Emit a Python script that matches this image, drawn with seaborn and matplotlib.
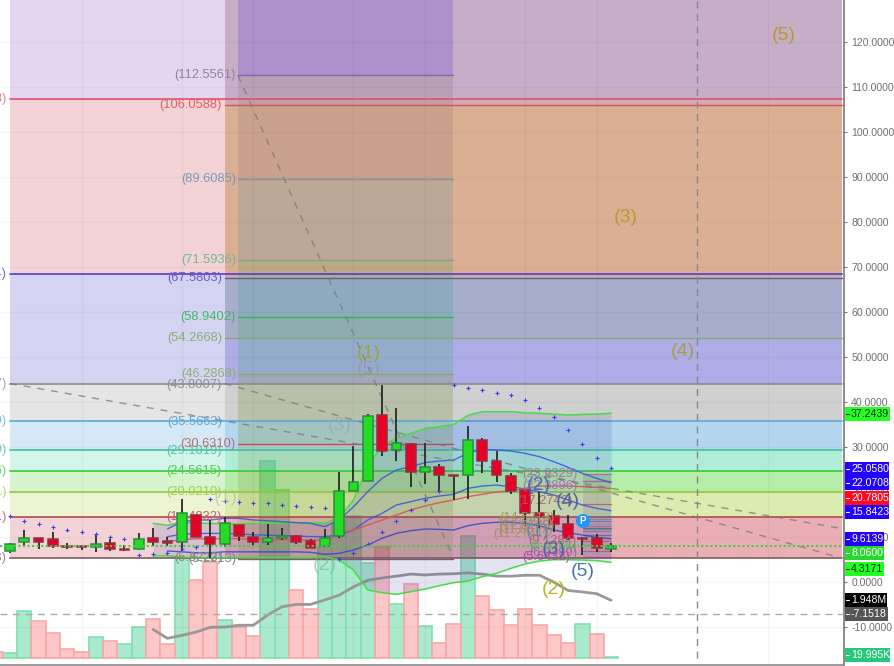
import numpy as np
import pandas as pd
import matplotlib
matplotlib.use("Agg")
import matplotlib.pyplot as plt
from matplotlib.patches import Rectangle, Circle
import seaborn as sns

# ---------- data ----------
candle_idx = list(range(43))
opens = [6.81,8.82,9.70,9.48,8.07,7.93,7.85,8.59,7.33,7.41,9.70,9.11,8.82,14.82,9.96,8.37,12.67,9.96,8.82,9.85,10.22,9.04,
         7.92,10.15,20.22,22.37,37.03,29.26,30.59,24.37,25.55,23.85,23.85,31.48,26.81,23.63,20.44,15.41,14.59,12.81,9.85,9.85,7.41]
closes = [8.45,9.70,8.96,8.07,7.78,7.78,8.45,7.26,7.19,9.48,8.96,8.59,15.26,9.96,8.52,13.04,10.15,8.82,9.78,10.30,8.96,7.63,
          9.85,20.15,22.14,36.81,29.18,30.81,24.44,25.63,23.85,23.63,31.48,26.81,23.70,20.22,15.41,14.52,12.89,9.85,9.63,7.48,8.00]
highs = [8.59,11.56,9.70,11.11,8.74,7.93,10.52,9.56,8.22,10.82,11.93,10.07,18.45,14.82,13.78,14.52,12.67,11.11,12.89,12.07,10.52,9.56,
         11.77,24.52,30.22,37.33,43.77,38.59,30.81,30.81,26.15,23.85,34.66,31.92,29.18,24.14,20.44,19.92,16.00,14.89,10.07,10.66,8.59]
lows = [6.37,8.00,7.41,7.63,7.41,7.11,6.74,6.96,6.96,7.11,8.07,8.00,6.96,9.96,5.41,7.85,9.11,8.07,8.22,9.33,8.45,7.48,
        7.77,9.70,20.22,22.37,28.07,26.96,21.18,21.70,20.07,18.22,18.52,24.29,22.14,19.55,12.52,11.92,11.18,9.33,6.00,6.74,6.74]

vol_idx = list(range(-1, 43))
volumes = [0.21,0.158,1.58,1.243,0.83,0.302,0.212,0.706,0.571,0.48,1.04,1.31,0.48,3.36,2.62,3.23,1.28,1.04,0.74,6.62,5.64,2.27,1.65,
           3.73,4.54,4.77,3.19,3.73,1.81,2.48,1.08,0.51,1.15,4.10,2.08,1.61,1.11,1.65,1.11,0.76,0.51,1.14,0.80,0.02]
vol_up = [0,1,1,0,0,0,0,1,0,1,1,0,0,1,0,0,1,0,0,1,1,0,0,1,1,1,1,0,1,0,1,0,0,1,0,0,0,0,0,0,0,1,0,1]

ma_idx = list(range(10, 43))
vol_ma = [0.96,0.66,0.76,0.87,1.03,1.04,1.10,1.10,1.44,1.72,1.80,1.80,1.95,2.11,2.39,2.61,2.69,2.75,2.82,2.79,2.82,2.83,2.86,2.82,
          2.75,2.75,2.78,2.78,2.55,2.27,2.22,2.16,1.94]

bb_idx = list(range(10, 43))
bb_upper = [13.04,12.59,13.33,13.04,13.04,12.89,12.89,13.04,13.04,13.19,13.19,13.19,13.03,14.30,18.20,25.60,30.40,31.90,33.00,34.10,
            34.50,35.00,37.00,37.85,37.85,37.85,37.60,37.50,37.30,37.10,37.25,37.30,37.50]
bb_lower = [5.78,5.85,5.56,5.41,5.41,5.41,5.41,5.41,5.41,5.41,5.41,5.41,5.63,4.89,2.66,-1.78,-2.37,-2.74,-2.15,-1.56,-0.82,-0.15,
            0.22,1.18,1.92,3.04,4.00,4.66,4.96,4.96,4.89,4.74,4.37]
inner_idx = list(range(11, 43))
blue_a = [11.78,13.40,13.78,13.78,14.15,14.15,13.78,13.63,13.40,13.19,13.04,12.30,13.77,16.70,20.07,23.03,24.89,25.63,26.52,26.89,
          27.11,28.59,29.48,29.33,29.11,28.59,27.85,26.74,25.48,24.15,23.03,22.07]
blue_b = [10.07,10.60,10.80,10.80,10.80,10.70,10.50,10.40,10.30,10.20,10.10,10.07,10.44,11.56,13.77,15.26,17.11,17.85,18.59,19.11,
          19.48,20.81,21.33,21.55,21.18,20.66,20.07,19.33,18.22,17.11,16.37,15.84]
sma = [9.00,9.40,9.60,9.60,9.60,9.60,9.50,9.40,9.40,9.40,9.30,9.33,10.81,11.56,12.66,13.77,14.89,16.00,16.89,17.63,18.22,18.96,19.48,
       20.00,20.29,20.81,21.33,21.33,21.33,21.18,21.03,20.78]
blue_c = [6.90,6.70,6.50,6.50,6.70,6.70,6.70,6.70,6.70,6.70,6.60,6.15,6.37,7.11,8.22,9.70,10.81,11.40,11.77,11.70,11.55,12.52,13.03,
          13.26,13.26,13.03,12.52,11.55,10.96,10.44,9.92,9.61]
sar = [14.67,13.63,12.89,12.22,11.63,11.04,10.59,10.07,9.63,6.07,6.30,6.44,7.26,7.85,18.45,18.07,17.85,17.63,17.48,17.04,16.81,16.59,
       16.52,5.18,6.37,8.37,11.03,13.63,16.00,18.22,20.22,43.70,43.04,42.59,42.00,41.63,40.37,38.59,36.59,33.85,30.59,27.63,25.26]

# fib set A: full width
a_levels = [107.3, 68.4, 44.1, 35.8, 29.35, 24.7, 20.1, 14.44, 5.27]
a_labels = ["(107.3308)", "(68.3654)", "(44.1267)", "(35.8009)", "(29.3509)", "(24.7056)", "(20.1021)", "(14.4381)", "(5.2703)"]
a_line = ["#e0506a", "#5038d0", "#8a8a8a", "#5aaad8", "#40c0a0", "#30cc30", "#95c835", "#b04848", "#805858"]
# fib set B labels
b_values = [106.0588, 67.5803, 54.2668, 43.8007, 35.5663, 29.1019, 24.5615, 20.0210, 14.4832, 5.3223]
b_colors = ["#d9606a", "#6a5ad0", "#88b070", "#8f8f8f", "#60a8d8", "#50c8a0", "#50cc50", "#a5cc50", "#c06070", "#888888"]
# fib set C
c_values = [112.5561, 89.6085, 71.5936, 58.9402, 46.2868, 30.6310, 5.2213]
c_colors = ["#9080a8", "#7a9ab8", "#70b890", "#40b868", "#90b070", "#b87070", "#888888"]
c_line = ["#8068a8", "#7a93a8", "#74a888", "#30b858", "#88a860", "#c05050", "#806060"]
# fib set D
d_levels = [23.93,22.39,17.27,14.5,14.0,13.5,13.0,12.5,12.1,11.7,11.27,10.5,9.12,8.3,6.98,5.64]
d_colors = ["#b060a0","#a85090","#c05060","#7070c0","#60a060","#8060c0","#60a0c0","#b06090","#5050c0","#50a060","#a060b0","#5060c0",
            "#c05060","#50b060","#b050a0","#a04090"]

TICKS = list(range(-10, 130, 10))
WAVES = [("(5)",784,35,"#b89a30",1),("(3)",626,218,"#b89a30",1),("(4)",683,351,"#a8a040",1),("(1)",369,353,"#98a830",1),
         ("(5)",369,369,"#909aa0",.7),("(3)",340,425,"#90a8a0",.6),("(2)",554,589,"#b8b820",1),("(5)",583,572,"#4a76a8",1),
         ("(2)",539,485,"#4a68b0",1),("(4)",568,501,"#4a68a0",1),("(3)",554,549,"#4a68a0",1),("(1)",538,531,"#4a88a8",.8),
         ("(2)",325,565,"#80b0a0",.6),("(1)",226,497,"#b0b0a0",.5)]
SIDE = [("37.2439",414,"#22ff22","#003000",890),("25.0580",469,"#2200ff","white",889),("22.0708",483,"#2200ff","white",889),
        ("20.7805",498,"#ff0a1e","white",889),("15.8423",512,"#2200ff","white",889),("9.6139",539,"#2200ff","white",884),
        ("8.0600",553,"#26d92c","white",884),("4.3171",569,"#22ff22","#003000",884),("1.948M",600,"black","white",887),
        ("-7.1518",614,"#555555","white",888),("19.995K",655,"#24c878","white",890)]

# ---------- theme ----------
sns.set_theme(style="white")
plt.rcParams["font.family"] = ["Liberation Sans", "DejaVu Sans"]

W, H = 894, 666
fig = plt.figure(figsize=(W/100, H/100), dpi=100, facecolor="white")
AX_R, AX_B = 844, 665
ax_vol = fig.add_axes([0, (H-AX_B)/H, AX_R/W, AX_B/H])
ax = ax_vol.twinx()
ax.set_zorder(2); ax_vol.set_zorder(1); ax.patch.set_visible(False)

X = lambda px: (px-10)/14.31
Y = lambda py: (582-py)/4.5
xlim = (X(0), X(AX_R)); ylim = (Y(AX_B), Y(0))
XEND = X(842)

# ---------- volume ----------
vdf = pd.DataFrame({"i": vol_idx, "v": volumes, "up": ["u" if u else "d" for u in vol_up]})
sns.barplot(data=vdf, x="i", y="v", hue="up", hue_order=["u", "d"], palette={"u": "#a9e9cc", "d": "#fdc7c7"}, native_scale=True,
            width=1.0, dodge=False, legend=False, ax=ax_vol, saturation=1, linewidth=1.2, zorder=2)
for cont, col in zip(ax_vol.containers, ["#82dfb4", "#f8a8a8"]):
    for b in cont:
        b.set_edgecolor(col)
sns.lineplot(x=ma_idx, y=vol_ma, color="#999999", lw=2, ax=ax_vol, zorder=3, estimator=None)
ax_vol.set_xlim(xlim); ax_vol.set_ylim(-7*0.0336, 658*0.0336)
ax_vol.set_xlabel(""); ax_vol.set_ylabel("")
ax_vol.set_xticks([]); ax_vol.set_yticks([])
for s in ax_vol.spines.values():
    s.set_visible(False)

ax.set_xlim(xlim); ax.set_ylim(ylim)
TOP = ylim[1]

def band(x0, x1, lo, hi, rgb, a, z=1):
    ax.fill_between([x0, x1], lo, hi, color=tuple(c/255 for c in rgb), alpha=a, lw=0, zorder=z)

# ---------- fib A ----------
x0A = X(10)
a_cols = [(130,45,190),(195,35,45),(40,40,190),(125,125,125),(45,140,205),(35,205,150),(50,205,15),(160,200,35),(195,35,50)]
edges = [TOP]+a_levels
for hi, lo, c in zip(edges[:-1], edges[1:], a_cols):
    band(x0A, XEND, lo, hi, c, .2)
# ---------- fib B ----------
x0B = X(225)
b_upper = [(TOP,106.06,(127,86,105)),(106.06,67.58,(166,94,0)),(67.58,54.27,(65,85,112)),(54.27,44.1,(92,85,209))]
for hi, lo, c in b_upper:
    band(x0B, XEND, lo, hi, c, .3)
for hi, lo, c in zip(a_levels[2:-1], a_levels[3:], a_cols[3:]):
    band(x0B, XEND, lo, hi, c, .2)
for v, c in zip(a_levels, a_line):
    ax.plot([x0A, XEND], [v, v], color=c, lw=1.3, alpha=.9, zorder=2)
for v, c in zip([106.0588, 67.5803, 54.2668], ["#d9505a", "#6a5a90", "#88a870"]):
    ax.plot([x0B, XEND], [v, v], color=c, lw=1.0, zorder=2)
# ---------- fib C ----------
x0C, x1C = X(238), X(453)
c_bands = [(TOP,112.56,(112,78,208),.3),(112.56,89.61,(107,83,83),.15),(89.61,71.59,(120,150,160),.3),(71.59,67.58,(110,163,103),.3),
           (67.58,58.94,(85,167,160),.3),(58.94,54.27,(85,167,113),.3),(54.27,46.29,(90,167,140),.3),(46.29,30.63,(125,151,70),.28),
           (30.63,5.27,(130,150,70),.22)]
for hi, lo, c, a in c_bands:
    band(x0C, x1C, lo, hi, c, a)
for v, c in zip(c_values, c_line):
    ax.plot([x0C, x1C], [v, v], color=c, lw=1.0, zorder=2)

# ---------- fib D ----------
band(X(583), X(611), 5.3, 24.0, (110,110,110), .18)
for v, c in zip(d_levels, d_colors):
    ax.plot([X(583), X(611)], [v, v], color=c, lw=0.9, alpha=.8, zorder=3)

# ---------- level labels ----------
fs = 9.3
for v, t, c in zip(a_levels, a_labels, a_line):
    ax.text(X(6.5), v, t, ha="right", va="center", color=c, fontsize=fs, alpha=.75, zorder=4, clip_on=False)
for v, c in zip(b_values, b_colors):
    ax.text(X(222), v, f"({v:.4f})", ha="right", va="center", color=c, fontsize=fs, zorder=4)
for v, c in zip(c_values, c_colors):
    ax.text(X(236), v, f"({v:.4f})", ha="right", va="center", color=c, fontsize=fs, zorder=4)
lab_d = [(578,474,"(23.9329)","#a868b8"),(578,486,"(22.3896)","#a868b8"),(573,501,"(17.2742)","#b05868"),
         (555,518,"(14.5213)","#a09060"),(553,522,"(13.6702)","#90a060"),(555,526,"(12.8133)","#a08878"),(553,530,"(11.9577)","#a09060"),
         (548,534,"(11.2741)","#a09060"),(577,541,"(9.1284)","#b85878"),(577,547,"(8.3276)","#50c060"),(577,553,"(6.9799)","#a858b0"),
         (570,557,"(5.6433)","#a848a0")]
for px, py, t, c in lab_d:
    ax.text(X(px), Y(py), t, ha="right", va="center", color=c, fontsize=fs, alpha=.9, zorder=7)

# ---------- Bollinger and indicators ----------
ax.fill_between(bb_idx, bb_lower, bb_upper, color=(70/255,70/255,170/255), alpha=.15, lw=0, zorder=2)
sns.lineplot(x=bb_idx, y=bb_upper, color="#44dd44", lw=1.1, ax=ax, zorder=3, estimator=None)
sns.lineplot(x=bb_idx, y=bb_lower, color="#44dd44", lw=1.1, ax=ax, zorder=3, estimator=None)
sns.lineplot(x=inner_idx, y=blue_a, color="#3355dd", lw=1.0, alpha=.85, ax=ax, zorder=3, estimator=None)
sns.lineplot(x=inner_idx, y=blue_b, color="#3355dd", lw=1.0, alpha=.85, ax=ax, zorder=3, estimator=None)
sns.lineplot(x=inner_idx, y=blue_c, color="#3344cc", lw=1.0, alpha=.85, ax=ax, zorder=3, estimator=None)
sns.lineplot(x=inner_idx, y=sma, color="#e05050", lw=1.0, alpha=.9, ax=ax, zorder=3, estimator=None)
sns.scatterplot(x=candle_idx, y=sar, marker="+", s=8, color="#3a3af0", linewidth=.8, ax=ax, zorder=6)

# ---------- reference lines ----------
ax.plot([X(0), XEND], [-7.1518, -7.1518], color="#aaaaaa", lw=1, ls=(0, (5, 4)), zorder=3)
ax.plot([X(0), XEND], [8.06, 8.06], color="#44cc44", lw=1.5, ls=(0, (1, 1.2)), zorder=6)
ax.plot([X(697), X(697)], [Y(658), TOP], color="#888888", lw=1, ls=(0, (5, 4)), zorder=3)
for xa, ya, xb, yb in [(0,44.1,58.1,11.9),(15,44.1,58.1,5.3),(15.93,112.56,31,5.3)]:
    ax.plot([xa, xb], [ya, yb], color="#777777", lw=1, ls=(0, (5, 5)), alpha=.75, zorder=3)

# ---------- candles ----------
cdf = pd.DataFrame({"i": candle_idx, "o": opens, "c": closes, "h": highs, "l": lows})
up = cdf.c >= cdf.o
ax.vlines(cdf.i, cdf.l, cdf.h, color="#2a2a2a", lw=1.3, zorder=5)
ax.bar(cdf.i, (cdf.c-cdf.o).abs().clip(lower=.25), bottom=cdf[["o", "c"]].min(axis=1), width=.68,
       color=np.where(up, "#22dd22", "#e60026"), edgecolor=np.where(up, "#2f8a45", "#8f3344"), lw=1.1, zorder=5)

# ---------- wave labels ----------
for t, px, py, c, a in WAVES:
    ax.text(X(px), Y(py), t, ha="center", va="center", color=c, alpha=a, fontsize=14, zorder=7)

# ---------- axes ----------
ax.yaxis.tick_right()
ax.set_yticks(TICKS)
ax.set_yticklabels([f"{v:.4f}" for v in TICKS], fontsize=7.6, color="#707070")
ax.tick_params(axis="y", length=2.2, width=.8, color="#777777", pad=3, right=True, left=False)
ax.set_xticks([])
for s in ax.spines.values():
    s.set_visible(False)
ax.spines["right"].set_visible(True); ax.spines["right"].set_color("#777777"); ax.spines["right"].set_linewidth(1.2)
ax.spines["bottom"].set_visible(True); ax.spines["bottom"].set_color("#888888"); ax.spines["bottom"].set_linewidth(1.2)
for v in TICKS:
    ax.axhline(v, color="black", alpha=.03, lw=1, zorder=1.5)
for g in [5, 12, 17, 24, 29, 36, 41, 53]:
    ax.axvline(g, color="black", alpha=.035, lw=1, zorder=1.5)

# ---------- overlay: side price tags and marker ----------
ui = fig.add_axes([0, 0, 1, 1], zorder=5)
ui.set_xlim(0, W); ui.set_ylim(H, 0); ui.axis("off")
for t, py, bg, fg, xr in SIDE:
    ui.add_patch(Rectangle((844.5, py-7), xr-844.5, 14, color=bg, lw=0))
    ui.plot([845.5, 848.5], [py, py], color=fg, lw=.8)
    ui.text(851, py, t, ha="left", va="center", color=fg, fontsize=7.6)
ui.add_patch(Circle((583, 521), 7, color="#2196f3", lw=0))
ui.text(583, 521, "P", ha="center", va="center", color="white", fontsize=7, fontweight="bold")

fig.savefig("out.png", dpi=100)
